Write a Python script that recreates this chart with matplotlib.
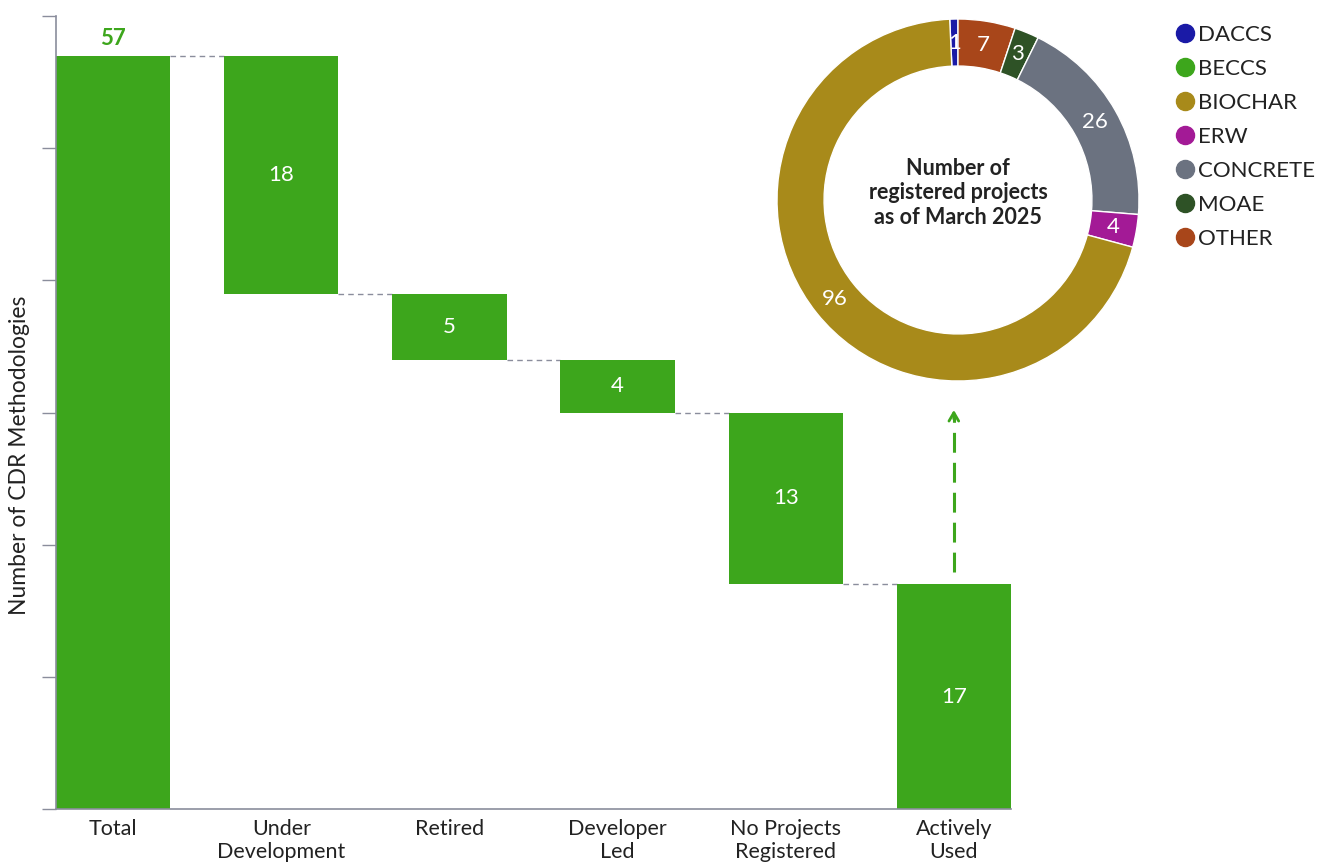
import numpy as np
import matplotlib.pyplot as plt
from matplotlib.lines import Line2D

plt.rcParams['font.family'] = ['Lato', 'DejaVu Sans']

# waterfall data
steps = ['Total', 'Under\nDevelopment', 'Retired', 'Developer\nLed',
         'No Projects\nRegistered', 'Actively\nUsed']
step_values = [57, 18, 5, 4, 13, 17]

# donut data (drawn clockwise from the top)
tech_names = ['DACCS', 'OTHER', 'MOAE', 'CONCRETE', 'ERW', 'BIOCHAR']
tech_counts = [1, 7, 3, 26, 4, 96]
tech_colors = ['#1a1aa6', '#a8461a', '#2e5226', '#6b7280', '#a31a96', '#a88a1a']

legend_names = ['DACCS', 'BECCS', 'BIOCHAR', 'ERW', 'CONCRETE', 'MOAE', 'OTHER']
legend_colors = ['#1a1aa6', '#3da61c', '#a88a1a', '#a31a96', '#6b7280', '#2e5226', '#a8461a']

green = '#3da61c'
axis_grey = '#8a8d9c'
text_col = '#222222'

fig = plt.figure(figsize=(13.18, 8.65), dpi=100)
ax = fig.add_axes([56 / 1318, 1 - 809 / 865, (1011 - 56) / 1318, (809 - 16) / 865])

# bottoms / tops for the waterfall
bottoms = [0]
tops = [step_values[0]]
level = step_values[0]
for v in step_values[1:-1]:
    bottoms.append(level - v)
    tops.append(level)
    level -= v
bottoms.append(0)
tops.append(step_values[-1])

width = 0.68
xs = list(range(len(steps)))
ax.bar(xs, step_values, bottom=bottoms, width=width, color=green, zorder=2)

# connectors between bars
for i in range(len(steps) - 1):
    y = bottoms[i] if i > 0 else tops[i]
    ax.plot([i + width / 2, i + 1 - width / 2], [y, y], color=axis_grey,
            lw=1, ls=(0, (4, 3)), zorder=1)

# value labels
ax.text(0, 57.5, str(step_values[0]), ha='center', va='bottom', color=green,
        fontsize=16, fontweight='bold')
for i in range(1, len(steps)):
    ax.text(i, bottoms[i] + step_values[i] / 2, str(step_values[i]),
            ha='center', va='center', color='white', fontsize=16)

# dashed arrow towards the donut
ax.plot([5, 5], [17.9, 29.9], color=green, lw=2.2, ls=(0, (6.5, 3.3)))
ax.annotate('', xy=(5, 30.4), xytext=(5, 29.3),
            arrowprops=dict(arrowstyle='->,head_width=0.35,head_length=0.6',
                            color=green, lw=2))

ax.set_xlim(-width / 2, 5 + width / 2)
ax.set_ylim(0, 60)
ax.set_yticks(range(0, 61, 10))
ax.set_yticklabels([])
ax.set_xticks(xs)
ax.set_xticklabels(steps, fontsize=15.5, color=text_col, linespacing=1.2)
ax.tick_params(axis='y', length=10, color=axis_grey, width=1)
ax.tick_params(axis='x', length=0, pad=7)
for s in ['top', 'right']:
    ax.spines[s].set_visible(False)
for s in ['left', 'bottom']:
    ax.spines[s].set_color(axis_grey)
    ax.spines[s].set_linewidth(1.2)
ax.set_ylabel('Number of CDR Methodologies', fontsize=16.5, color=text_col)
ax.yaxis.set_label_coords(-0.027, 0.446)

# donut
dax = fig.add_axes([777 / 1318, 1 - 381 / 865, 362 / 1318, 362 / 865])
total = sum(tech_counts)
start = 90 + 360 / total
wedges, texts = dax.pie(tech_counts, colors=tech_colors, counterclock=False,
                        startangle=start, radius=1,
                        wedgeprops=dict(width=0.26, edgecolor='white', linewidth=1))
ang = start
for c in tech_counts:
    mid = np.deg2rad(ang - 360 * c / total / 2)
    ang -= 360 * c / total
    dax.text(0.87 * np.cos(mid), 0.87 * np.sin(mid), str(c), ha='center', va='center',
             color='white', fontsize=16)
dax.text(0, 0.04, 'Number of\nregistered projects\nas of March 2025', ha='center',
         va='center', fontsize=15.5, fontweight='bold', color=text_col, linespacing=1.2)
dax.set_xlim(-1, 1)
dax.set_ylim(-1, 1)
dax.set_aspect('equal')
dax.axis('off')

# legend
handles = [Line2D([0], [0], marker='o', ls='none', markersize=13,
                  markerfacecolor=c, markeredgecolor=c) for c in legend_colors]
fig.legend(handles, legend_names, loc='upper left',
           bbox_to_anchor=(1174 / 1318, 1 - 25 / 865),
           frameon=False, fontsize=16, handletextpad=0.1, labelspacing=0.63,
           handlelength=1.0, borderaxespad=0, borderpad=0, labelcolor=text_col)

fig.savefig('out.png', dpi=100)
